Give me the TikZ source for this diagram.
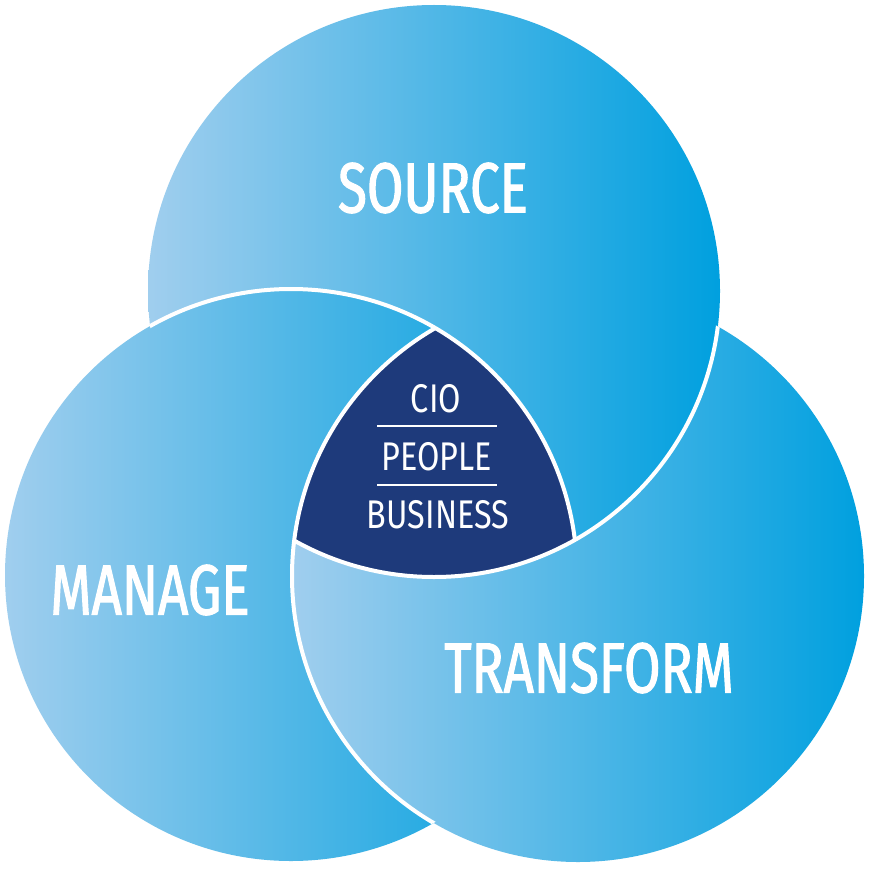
\documentclass[tikz,border=0pt]{standalone}
\usepackage{fontspec}
\setmainfont{Fira Sans}[FakeStretch=0.81]
\newfontfamily\bigfont{Fira Sans}[FakeStretch=0.745,FakeBold=1.5]
\definecolor{lightb}{RGB}{160,206,238}
\definecolor{darkb}{RGB}{0,160,223}
\definecolor{navy}{RGB}{30,58,123}
\tikzset{
  grad/.style={left color=lightb,right color=darkb},
  border/.style={draw=white,line width=4pt},
  biglabel/.style={text=white,font=\bigfont\fontsize{71}{71}\selectfont,inner sep=0pt},
  smalllabel/.style={text=white,font=\fontsize{40}{40}\selectfont,inner sep=0pt},
  sep/.style={draw=white,line width=2pt}
}
\def\Src{(434,291) circle (286)}
\def\Mng{(291,575) circle (286)}
\def\Trf{(578,576) circle (286)}
\begin{document}
\begin{tikzpicture}[x=1pt,y=-1pt]
\useasboundingbox[fill=white] (0,0) rectangle (869,869);
% fills: Transform, Source over it, Manage outside Transform
\shade[grad] \Trf;
\shade[grad] \Src;
\begin{scope}[even odd rule]
  \clip (-20,-20) rectangle (889,889) \Trf;
  \shade[grad] \Mng;
\end{scope}
\begin{scope}
  \clip \Src;
  \clip \Mng;
  \fill[navy] \Trf;
\end{scope}
% white borders
\begin{scope}
  \clip \Src;
  \draw[border] \Mng;
\end{scope}
\begin{scope}
  \clip \Trf;
  \draw[border] \Src;
\end{scope}
\begin{scope}
  \clip \Mng;
  \draw[border] \Trf;
\end{scope}
% labels
\node[biglabel] (source) at (433,188) {SOURCE};
\node[biglabel] (manage) at (150,590) {MANAGE};
\node[biglabel] (transform) at (589,668) {TRANSFORM};
\node[smalllabel] (cio) at (436,399) {CIO};
\node[smalllabel] (people) at (437,457) {PEOPLE};
\node[smalllabel] (business) at (438,515) {BUSINESS};
\coordinate (s1l) at (377,426);
\coordinate (s1r) at (497,426);
\coordinate (s2l) at (377,485);
\coordinate (s2r) at (497,485);
\draw[sep] (s1l) -- (s1r);
\draw[sep] (s2l) -- (s2r);
\end{tikzpicture}
\end{document}
